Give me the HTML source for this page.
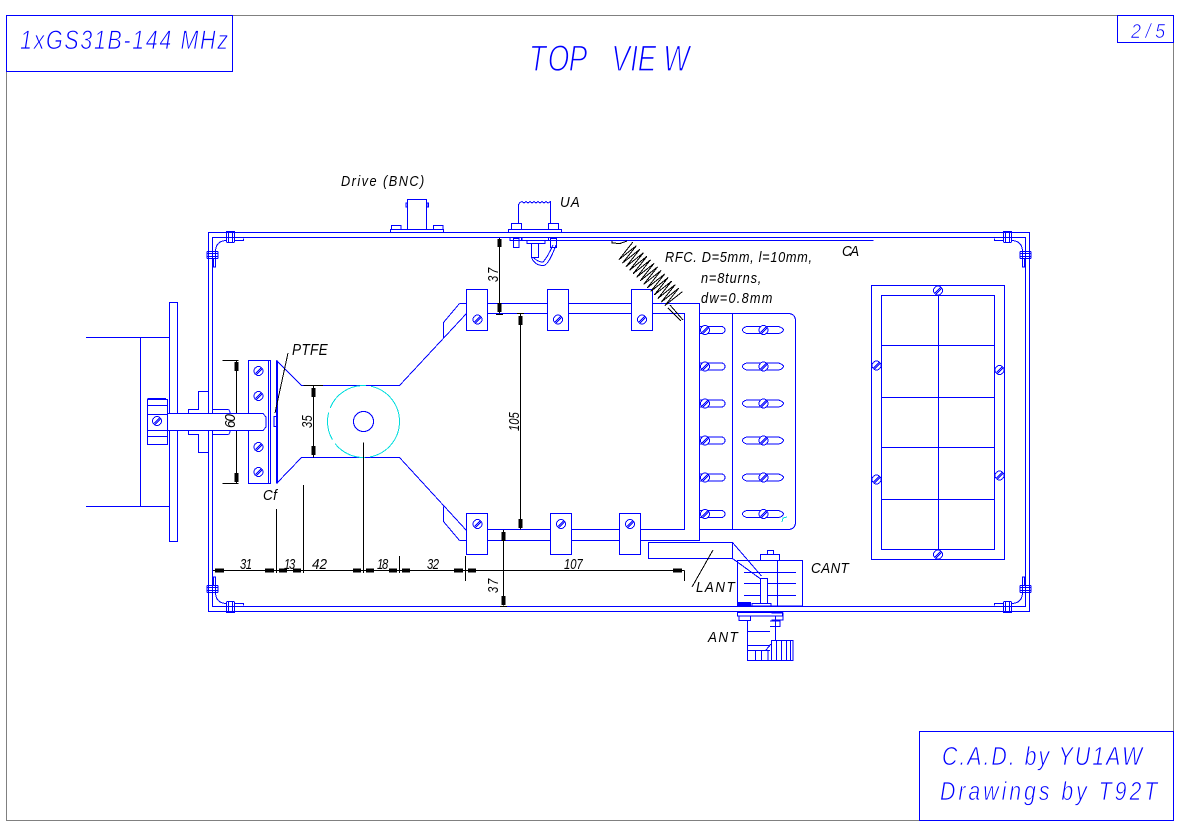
<!DOCTYPE html>
<html><head><meta charset="utf-8"><title>TOP VIEW</title>
<style>
html,body{margin:0;padding:0;background:#fff;width:1181px;height:835px;overflow:hidden}
svg{display:block}
text{font-family:"Liberation Sans",sans-serif;font-style:italic}
.b text{fill:#00f;stroke:#fff}
.k text{fill:#000;font-size:15px;stroke:none}
</style></head><body>
<svg width="1181" height="835" viewBox="0 0 1181 835" shape-rendering="crispEdges">
<defs>
<g id="s" fill="#fff" stroke="#00f" stroke-width="1"><circle r="4.500"/><path d="M-3,2.500 L2.500,-3 M-2,3.500 L3.500,-2"/></g>
<g id="sl"><path d="M0,-3.500 H21.500 A3.500,3.500 0 0 1 21.500,3.500 H0" fill="#fff" stroke="#00f"/><use href="#s" x="5"/></g>
<g id="sr"><path d="M4,-3.500 H36 Q41,-2 41,0 Q40,3 36,3.500 H4 Q0,2 0,0 Q0,-2 4,-3.500Z" fill="#fff" stroke="#00f"/><use href="#s" x="21"/></g>
<g id="cn" fill="none" stroke="#00f">
<path d="M208.500,267 V240 M212.500,267 V240"/>
<path d="M226.500,231 V242 M228.500,231 V242 M232.500,231 V242 M234.500,231 V242 M226.500,231.500 H234.500 M226.500,242.500 H234.500"/>
<path d="M207,251.500 H218 M207,253.500 H218 M207,256.500 H218 M207,258.500 H218 M218,251.500 V258.500 M207,251.500 V258.500"/>
<path d="M213.500,258 V267 H215.500 V251 Q216,241 226,240.500 M234.500,240.500 H243.500 V238.500"/>
</g>
</defs>
<rect width="1181" height="835" fill="#fff"/>

<!-- gray sheet frame -->
<rect x="6.500" y="15.500" width="1167" height="805" fill="none" stroke="#808080"/>

<g fill="none" stroke="#00f" stroke-width="1">
<!-- title boxes -->
<rect x="6.500" y="15.500" width="226" height="56"/>
<rect x="1117.500" y="15.500" width="56" height="27"/>
<rect x="919.500" y="731.500" width="254" height="89"/>

<!-- motor -->
<path d="M86,337.500 H169.500 M86,506.500 H169.500 M140.500,337.500 V506.500"/>
<rect x="169.500" y="302.500" width="8" height="239"/>
<rect x="147.500" y="399.500" width="20" height="45"/>
<path d="M147.500,398.500 H166 M147.500,405.500 H167 M147.500,414.500 H167 M147.500,430.500 H167 M147.500,436.500 H167"/>

<!-- chassis -->
<path d="M208.500,232.500 H1029.500 V611.500 H208.500 Z"/>
<path d="M212.500,237.500 H1025.500 V606.500 H212.500 Z"/>
<path d="M540,240.500 H873.500"/>

<!-- block -->
<rect x="248.500" y="360.500" width="22" height="123"/>
<path d="M268.500,360.500 V483.500"/>
<path d="M276.500,360.500 V483.500 M277.500,360.500 V483.500"/>

<!-- tank shape -->
<path d="M276.500,360.500 L301.500,385.500 H399.500 L466.500,313.500 M276.500,483.500 L301.500,457.500 H399.500 L466.500,530.500"/>
<path d="M459.500,303.500 L443.500,322.500 V337.500 M459.500,540.500 L443.500,521.500 V506.500"/>
<path d="M459.500,303.500 H699.500 V540.500 H459.500 M466.500,313.500 H684.500 V529.500 H466.500"/>
<rect x="274" y="416.500" width="2.500" height="10"/>

<!-- circles -->
<circle cx="363.500" cy="421.500" r="10"/>
<circle cx="363.500" cy="421.500" r="36" stroke="#0dd" stroke-dasharray="50 5 34 5 28 5 45 5"/>

<!-- bushing -->
<path d="M208.500,391.500 H198.500 V409.500 H188.500 V413.500 M212.500,409.500 H228 Q230,410 230,413.500 M188.500,430.500 V434.500 H198.500 V452.500 H208.500 M212.500,434.500 H228 Q230,434 230,430.500"/>
</g>

<!-- dims under shaft -->
<g stroke="#000" fill="none">
<path d="M222.500,360.500 H238.500 M222.500,483.500 H238.500 M236.500,360.500 V483.500"/>
</g>
<!-- shaft -->
<path d="M167.500,413.500 H263 L266,417 V427 L263,430.500 H167.500 Z" fill="#fff" stroke="#00f"/>

<use href="#s" x="157" y="421"/>
<use href="#s" x="258.500" y="371"/><use href="#s" x="258.500" y="396"/>
<use href="#s" x="258.500" y="447"/><use href="#s" x="258.500" y="472"/>

<!-- clamps -->
<g fill="#fff" stroke="#00f">
<rect x="466.500" y="289.500" width="21" height="41"/><rect x="547.500" y="289.500" width="21" height="41"/><rect x="631.500" y="289.500" width="21" height="41"/>
<rect x="466.500" y="513.500" width="21" height="41"/><rect x="550.500" y="513.500" width="21" height="41"/><rect x="619.500" y="513.500" width="21" height="41"/>
</g>
<use href="#s" x="477.500" y="319.500"/><use href="#s" x="558" y="319.500"/><use href="#s" x="642" y="319.500"/>
<use href="#s" x="477.500" y="524"/><use href="#s" x="561" y="524"/><use href="#s" x="630" y="524"/>

<!-- right slotted panel -->
<path d="M699.500,313.500 H789 Q795,314 795.500,320 V523 Q795,529 789,529.500 H699.500 M732.500,313.500 V529.500" fill="none" stroke="#00f"/>
<use href="#sl" x="700" y="330"/><use href="#sl" x="700" y="366.500"/><use href="#sl" x="700" y="403.500"/><use href="#sl" x="700" y="440.500"/><use href="#sl" x="700" y="477.500"/><use href="#sl" x="700" y="514"/>
<use href="#sr" x="742.500" y="330"/><use href="#sr" x="742.500" y="366.500"/><use href="#sr" x="742.500" y="403.500"/><use href="#sr" x="742.500" y="440.500"/><use href="#sr" x="742.500" y="477.500"/><use href="#sr" x="742.500" y="514"/>
<path d="M782,522 L783,518 L787,517" fill="none" stroke="#0dd"/>

<!-- grille -->
<g fill="none" stroke="#00f">
<rect x="871.500" y="285.500" width="133" height="274"/>
<rect x="881.500" y="295.500" width="113" height="254"/>
<path d="M881.500,345.500 H994.500 M881.500,397.500 H994.500 M881.500,447.500 H994.500 M881.500,499.500 H994.500 M938.500,290 V555"/>
</g>
<use href="#s" x="938" y="290.500"/><use href="#s" x="938" y="554.500"/><use href="#s" x="876.500" y="365.500"/><use href="#s" x="876.500" y="479.500"/><use href="#s" x="999.500" y="370"/><use href="#s" x="999.500" y="475.500"/>

<!-- corners -->
<use href="#cn"/>
<use href="#cn" transform="matrix(-1 0 0 1 1238 0)"/>
<use href="#cn" transform="matrix(1 0 0 -1 0 844)"/>
<use href="#cn" transform="matrix(-1 0 0 -1 1238 844)"/>

<!-- BNC -->
<g fill="none" stroke="#00f">
<rect x="407.500" y="199.500" width="19" height="30"/>
<path d="M406,203 H407.500 V207 H406 Z M427,203 H428.500 V207 H427 Z"/>
<rect x="390.500" y="229.500" width="53" height="3"/>
<path d="M391.500,229.500 V225.500 H401 V229.500 M433.500,229.500 V225.500 H443 V229.500"/>
<!-- UA -->
<path d="M518.500,223.500 V204.500 L520,202.500 L522,201.500 L524,203 L526,201.500 L528,203 L530,201.500 L532,203 L534,201.500 L536,203 L538,201.500 L540,203 L542,201.500 L544,203 L546,201.500 L548,203 L550.500,201.500 V223.500"/>
<path d="M511.500,229.500 V223.500 H521.500 V229.500 M548.500,229.500 V223.500 H558.500 V229.500"/>
<rect x="508.500" y="229.500" width="53" height="3"/>
<rect x="513.500" y="238.500" width="5.500" height="9"/><rect x="550.500" y="238.500" width="6" height="9"/>
<path d="M510,237.500 V240.500 H521.500 V237.500 M551,240.500 H575 M522,237.500 V240.500 M522,240.500 H548.500 V237.500 M527,240.500 V243.500 H545 V240.500"/>
<path d="M531.500,243.500 V257.500 H538.500 V243.500"/>
<path d="M531.500,257.500 Q535,266 544,265.500 Q549,264 556,245 M534,258 Q538,262 543,262 Q547,258 553,245"/>
</g>

<!-- RFC coil -->
<g fill="none" stroke="#000" transform="translate(625,250) rotate(45)">
<path d="M0,-11 l2.500,22 l2.500,-22 l2.500,22 l2.500,-22 l2.500,22 l2.500,-22 l2.500,22 l2.500,-22 l2.500,22 l2.500,-22 l2.500,22 l2.500,-22 l2.500,22 l2.500,-22 l2.500,22 l2.500,-22 l2.500,22 l2.500,-22 l2.500,22 l2.500,-22 l2.500,22 l2.500,-22 l2.500,22 l2.500,-22 l2.500,22 l2.500,-22 l2.500,22 l2.500,-22"/>
</g>
<path d="M612,241 V243 L620,243.500 L627,241 M670,305 L683,320 M668,308 L681,321" fill="none" stroke="#000"/>

<!-- LANT / CANT -->
<g fill="none" stroke="#00f">
<rect x="737.500" y="560.500" width="65" height="45.500" fill="#fff"/>
<path d="M744,572.500 H796 M744,583.500 H796 M744,595.500 H796 M777.500,560.500 V606"/>
<rect x="760.500" y="554.500" width="19" height="6"/>
<rect x="767.500" y="550.500" width="6" height="4"/>
<path d="M732.500,542.500 L761.500,576 M732.500,558.500 L760,578.500"/>
<rect x="648.500" y="542.500" width="84" height="16" fill="#fff"/>
<rect x="760.500" y="578.500" width="7" height="25" fill="#fff"/>
<path d="M752,606 V603.500 H760 M767,603.500 H771 V606"/>
<rect x="738.500" y="602.500" width="12" height="3.500" fill="#00f"/>
<!-- N connector -->
<rect x="737.500" y="612.500" width="45" height="3.500"/>
<path d="M739,616 V620.500 H750.500 V616 M747.500,620.500 V660.500 H771.500 M747.500,631.500 H770 M748,645.500 H770 M748,650.500 H770 M755.500,650.500 V660.500 M761.500,650.500 V660.500 M768,650.500 V660.500"/>
<path d="M771.500,613 H783 V620 H771.500 M770,621 H780 V626.500 H770 M775.500,616 V640.500 M770,626.500 H778"/>
<path d="M766,650 L771,644"/>
<rect x="771.500" y="640.500" width="21.500" height="20"/>
<path d="M776.500,640.500 V660.500 M781.500,640.500 V660.500 M786.500,640.500 V660.500 M790.500,640.500 V660.500"/>
</g>

<!-- black dims -->
<g fill="none" stroke="#000">
<path d="M303.500,385.500 H323 M313.500,385.500 V457.500"/>
<path d="M499.500,238 V313.500 M496,314.500 H503"/>
<path d="M520.500,314 V529.500 M517,313.500 H524"/>
<path d="M503.500,530 V605.500 M500,606.500 H507"/>
<path d="M213,570.500 H684.500 M684.500,570.500 V581"/>
<path d="M276.500,509 V573 M303.500,485 V573 M363.500,442.500 V573 M399.500,556 V573 M465.500,556 V581"/>
<path d="M288,353 L275,413"/>
<path d="M713,550 L692,587"/>
</g>
<g fill="#000">
<rect x="215" y="568.500" width="9" height="4"/><rect x="265" y="568.500" width="9" height="4"/>
<rect x="279" y="568.500" width="8" height="4"/><rect x="293" y="568.500" width="8" height="4"/>
<rect x="353" y="568.500" width="8" height="4"/><rect x="366" y="568.500" width="8" height="4"/>
<rect x="389" y="568.500" width="8" height="4"/><rect x="402" y="568.500" width="8" height="4"/>
<rect x="454" y="568.500" width="9" height="4"/><rect x="468" y="568.500" width="8" height="4"/>
<rect x="673" y="568.500" width="9" height="4"/>
<rect x="234.500" y="362" width="4" height="9"/><rect x="234.500" y="473" width="4" height="9"/>
<rect x="311.500" y="388" width="4" height="9"/><rect x="311.500" y="446" width="4" height="9"/>
<rect x="497.500" y="239" width="4" height="8"/><rect x="497.500" y="303" width="4" height="9"/>
<rect x="518.500" y="316" width="4" height="9"/><rect x="518.500" y="519" width="4" height="9"/>
<rect x="501.500" y="532" width="4" height="9"/><rect x="501.500" y="596" width="4" height="9"/>
</g>

<!-- text -->
<g shape-rendering="auto">
<g class="b">
<text transform="translate(20,49) scale(.8,1)" font-size="27" stroke-width=".8" textLength="260" lengthAdjust="spacing">1xGS31B-144 MHz</text>
<text transform="translate(529,71) scale(.75,1)" font-size="37" stroke-width="1.200" x="0 25 53 85 110 135 145 179">TOP VIEW</text>
<text transform="translate(1131,38) scale(.9,1)" font-size="20" stroke-width=".6" textLength="38" lengthAdjust="spacing">2/5</text>
<text transform="translate(942,765) scale(.82,1)" font-size="26" stroke-width=".7" textLength="244" lengthAdjust="spacing">C.A.D. by YU1AW</text>
<text transform="translate(940,800) scale(.82,1)" font-size="26" stroke-width=".7" textLength="265" lengthAdjust="spacing">Drawings by T92T</text>
</g>
<g class="k">
<text transform="translate(341,186) scale(.85,1)" textLength="98" lengthAdjust="spacing">Drive (BNC)</text>
<text transform="translate(560,207) scale(.9,1)" textLength="22" lengthAdjust="spacing">UA</text>
<text transform="translate(665,262) scale(.85,1)" textLength="173" lengthAdjust="spacing">RFC. D=5mm, l=10mm,</text>
<text transform="translate(701,283) scale(.85,1)" textLength="71" lengthAdjust="spacing">n=8turns,</text>
<text transform="translate(701,303) scale(.85,1)" textLength="84" lengthAdjust="spacing">dw=0.8mm</text>
<text transform="translate(842,256) scale(.9,1)" textLength="19" lengthAdjust="spacing">CA</text>
<text transform="translate(292,355) scale(.85,1)" style="font-size:16px" textLength="42" lengthAdjust="spacing">PTFE</text>
<text transform="translate(263,500) scale(.9,1)" textLength="15.500" lengthAdjust="spacing">Cf</text>
<text transform="translate(240,569) scale(.75,1)" textLength="16" lengthAdjust="spacing">31</text>
<text transform="translate(284,569) scale(.75,1)" textLength="15" lengthAdjust="spacing">13</text>
<text transform="translate(312,569) scale(.9,1)" textLength="16.700" lengthAdjust="spacing">42</text>
<text transform="translate(377,569) scale(.75,1)" textLength="15" lengthAdjust="spacing">18</text>
<text transform="translate(427,569) scale(.75,1)" textLength="16" lengthAdjust="spacing">32</text>
<text transform="translate(564,569) scale(.75,1)" textLength="25" lengthAdjust="spacing">107</text>
<text transform="translate(696,592) scale(.9,1)" textLength="43" lengthAdjust="spacing">LANT</text>
<text transform="translate(708,642) scale(.9,1)" textLength="33" lengthAdjust="spacing">ANT</text>
<text transform="translate(811,573) scale(.9,1)" textLength="42" lengthAdjust="spacing">CANT</text>
<text transform="translate(235,428) rotate(-90) scale(.9,1)" textLength="15.500" lengthAdjust="spacing">60</text>
<text transform="translate(312,428) rotate(-90) scale(.75,1)" textLength="17" lengthAdjust="spacing">35</text>
<text transform="translate(519,431) rotate(-90) scale(.75,1)" textLength="25" lengthAdjust="spacing">105</text>
<text transform="translate(498,282) rotate(-90) scale(.75,1)" textLength="19" lengthAdjust="spacing">37</text>
<text transform="translate(498,593) rotate(-90) scale(.75,1)" textLength="19" lengthAdjust="spacing">37</text>
</g>
</g>
</svg>
</body></html>
